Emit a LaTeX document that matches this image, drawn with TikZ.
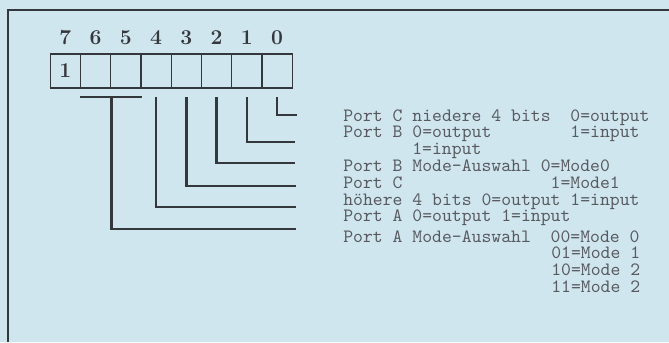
\documentclass[tikz,border=0pt]{standalone}
\usepackage{tikz}
\definecolor{paper}{RGB}{207,230,238}
\definecolor{ink}{RGB}{52,55,60}
\definecolor{type}{RGB}{88,90,96}
\tikzset{
  cell/.style={draw=ink,line width=0.8pt,minimum width=6.05mm,minimum height=6.8mm,inner sep=0pt},
  bitno/.style={font=\bfseries\large,text=ink,inner sep=0pt},
  wire/.style={draw=ink,line width=1.4pt},
  txt/.style={anchor=base west,inner sep=0pt,text=type,font=\ttfamily\fontsize{10.7}{12}\selectfont},
}
\begin{document}
\begin{tikzpicture}[x=0.2mm,y=-0.2mm]
\fill[paper] (0,0) rectangle (669,342);
\useasboundingbox (0,0) rectangle (669,342);
% frame
\draw[ink,line width=0.7pt] (8,342)--(8,10)--(669,10);

% register bits 7..0
\foreach \i in {0,...,7}
  \node[cell] (b\i) at ({277.1-30.25*\i},71) {};
\foreach \i in {0,...,7}
  \node[bitno] (n\i) at ([yshift=3.1mm]b\i.north) {\i};
\node[bitno] (one) at (b7) {1};

% wire ends
\coordinate (e0) at (297,115);
\coordinate (e1) at (295,142);
\coordinate (e2) at (295,163);
\coordinate (e3) at (296,186);
\coordinate (e4) at (296,207);
\coordinate (e5) at (296,229);

\draw[wire] ([yshift=-1.7mm]b0.south) |- (e0);
\draw[wire] ([yshift=-1.7mm]b1.south) |- (e1);
\draw[wire] ([yshift=-1.7mm]b2.south) |- (e2);
\draw[wire] ([yshift=-1.7mm]b3.south) |- (e3);
\draw[wire] ([yshift=-1.7mm]b4.south) |- (e4);
\draw[wire] ([yshift=-1.7mm]b6.south west) -- ([yshift=-1.7mm]b5.south east);
\draw[wire] ([yshift=-1.7mm]b6.south east) |- (e5);

% texts
\node[txt] (t1) at (343,121) {Port~C~niedere~4~bits~~0=output};
\node[txt] (t2) at (343,137.8) {Port~B~0=output~~~~~~~~1=input};
\node[txt] (t3) at (412,154.6) {1=input};
\node[txt] (t4) at (343,171.4) {Port~B~Mode-Auswahl~0=Mode0};
\node[txt] (t5) at (343,188.2) {Port~C~~~~~~~~~~~~~~~1=Mode1};
\node[txt] (t6) at (343,205) {h\"ohere~4~bits~0=output~1=input};
\node[txt] (t7) at (343,221.8) {Port~A~0=output~1=input};
\node[txt] (t8) at (343,242) {Port~A~Mode-Auswahl~~00=Mode~0};
\node[txt] (t9) at (551,258.8) {01=Mode~1};
\node[txt] (t10) at (551,275.6) {10=Mode~2};
\node[txt] (t11) at (551,292.4) {11=Mode~2};
\end{tikzpicture}
\end{document}
